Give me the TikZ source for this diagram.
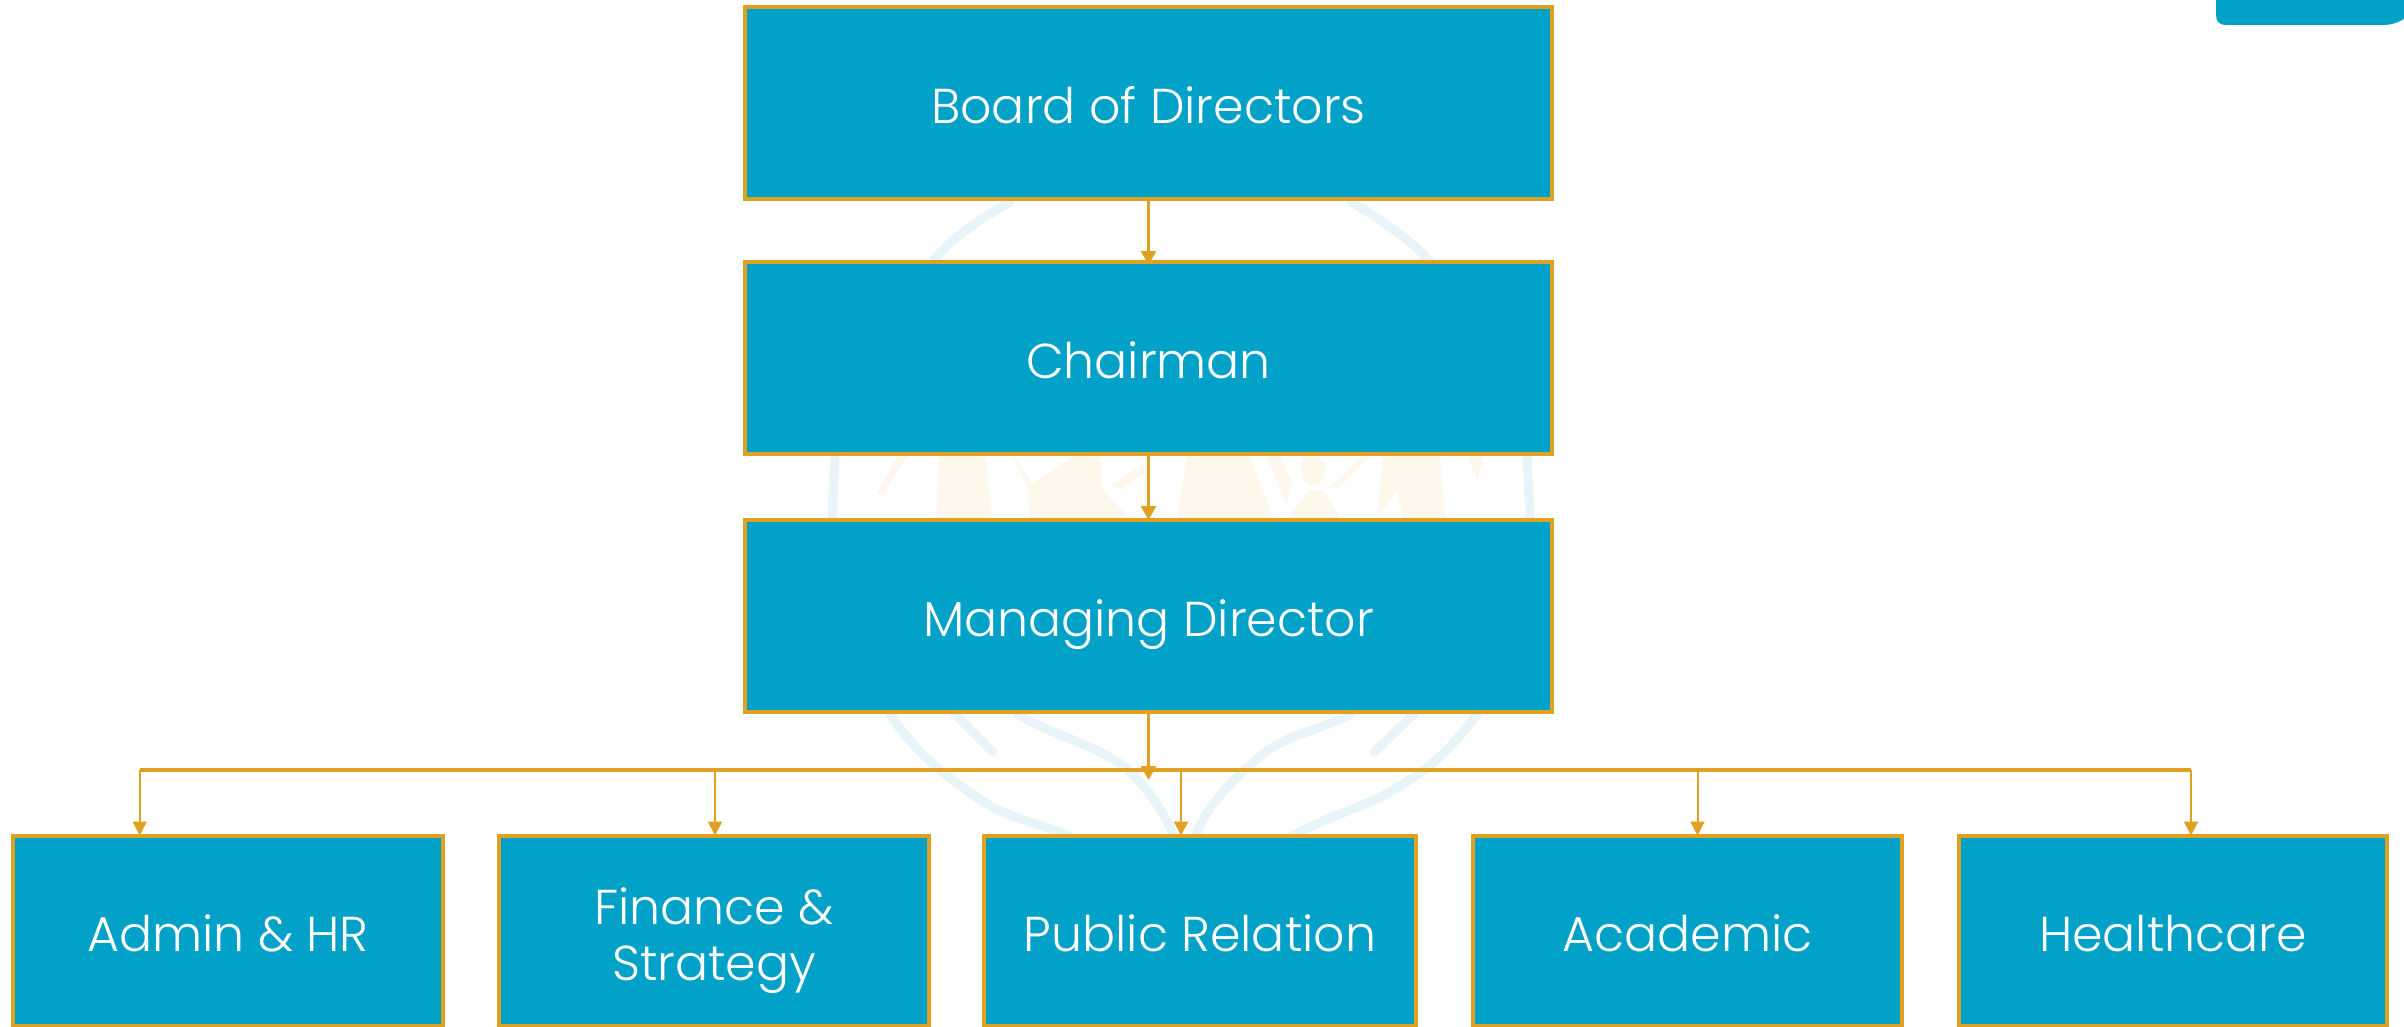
\documentclass[tikz,border=0pt]{standalone}
\usepackage{fontspec}
\setmainfont{Poppins Light}
\usetikzlibrary{arrows.meta,calc}
\definecolor{boxblue}{HTML}{01A1C8}
\definecolor{gold}{HTML}{E0A021}
\definecolor{wmblue}{HTML}{E7F4FA}
\definecolor{wmcream}{HTML}{FDF7EC}
\newcommand{\onelabel}[1]{\raisebox{0pt}[40pt][0pt]{#1}}
\tikzset{
  orgbox/.style={draw=gold,fill=boxblue,line width=4pt,text=white,align=center,
    inner sep=0pt,font=\fontsize{49}{56.7}\selectfont},
  topbox/.style={orgbox,minimum width=807pt,minimum height=192pt},
  arrowline/.style={draw=gold,line width=2.6pt,-{Triangle[width=15pt,length=14pt]}},
  thinline/.style={draw=gold,line width=2pt,-{Triangle[width=14pt,length=14pt]}},
  barline/.style={draw=gold,line width=4pt},
  wmline/.style={draw=wmblue,line width=9pt,line cap=round},
  wmfill/.style={fill=wmcream,draw=none}
}
\begin{document}
\begin{tikzpicture}[x=1pt,y=-1pt]
\useasboundingbox (0,0) rectangle (2404,1027);
\fill[white] (0,0) rectangle (2404,1027);
% faint background emblem
\draw[wmline] (1010,202) .. controls (975,222) and (950,240) .. (934,260);
\draw[wmline] (1351,202) .. controls (1385,222) and (1410,240) .. (1429,260);
\draw[wmline] (835,456) -- (832,518);
\draw[wmline] (1527,456) -- (1530,518);
\draw[wmline] (890,714) .. controls (910,745) and (940,775) .. (989,805) .. controls (1015,820) and (1045,825) .. (1069,836);
\draw[wmline] (955,714) -- (993,752);
\draw[wmline] (1018,714) .. controls (1050,735) and (1100,745) .. (1128,770) .. controls (1150,790) and (1165,815) .. (1174,836);
\draw[wmline] (1351,714) .. controls (1320,730) and (1285,735) .. (1262,755) .. controls (1230,780) and (1205,810) .. (1195,836);
\draw[wmline] (1414,714) -- (1374,752);
\draw[wmline] (1477,714) .. controls (1450,750) and (1430,770) .. (1384,795) .. controls (1355,810) and (1320,820) .. (1292,836);
\fill[wmfill] (897,456) -- (907,456) -- (882,497) -- (878,492) -- cycle;
\fill[wmfill] (939,456) -- (985,456) -- (992,518) -- (936,518) -- cycle;
\fill[wmfill] (1013,456) -- (1033,483) -- (1075,456) -- (1100,456) -- (1102,490) -- (1130,518) -- (1030,518) -- (1028,490) -- cycle;
\fill[wmfill] (1112,485) -- (1143,464) -- (1145,472) -- (1120,490) -- cycle;
\fill[wmfill] (1187,456) -- (1250,456) -- (1273,518) -- (1177,518) -- cycle;
\fill[wmfill] (1267,456) -- (1280,456) -- (1292,483) -- (1286,505) -- cycle;
\fill[wmfill] (1313,470) ellipse[x radius=12,y radius=16];
\fill[wmfill] (1287,518) -- (1310,490) -- (1323,490) -- (1340,518) -- cycle;
\fill[wmfill] (1330,487) -- (1363,456) -- (1370,456) -- (1340,487) -- cycle;
\fill[wmfill] (1383,456) -- (1440,456) -- (1445,518) -- (1403,518) -- (1397,490) -- (1377,518) -- cycle;
\fill[wmfill] (1467,456) -- (1478,480) -- (1483,456) -- cycle;
% corner tab
\fill[boxblue] (2216,-5) -- (2216,15) .. controls (2216,22) and (2220,25) .. (2226,25) -- (2383,25) .. controls (2392,25) and (2399,22) .. (2404,19) -- (2404,-5) -- cycle;
% top boxes
\node[topbox] (board) at (1148.5,103.5) {\onelabel{Board of Directors}};
\node[topbox] (chair) at (1148.5,358) {\onelabel{Chairman}};
\node[topbox] (md) at (1148.5,616) {\onelabel{Managing Director}};
% bottom row
\node[orgbox,minimum width=430pt,minimum height=190pt] (admin) at (228,931) {\onelabel{Admin \& HR}};
\node[orgbox,minimum width=430pt,minimum height=190pt] (fin) at (714,931) {\raisebox{0pt}[42.7pt][0pt]{Finance \&}\\\raisebox{0pt}[0pt][0pt]{Strategy}};
\node[orgbox,minimum width=432pt,minimum height=190pt] (pr) at (1200,931) {\onelabel{Public Relation}};
\node[orgbox,minimum width=429pt,minimum height=190pt] (acad) at (1687.5,931) {\onelabel{Academic}};
\node[orgbox,minimum width=428pt,minimum height=190pt] (health) at (2173,931) {\onelabel{Healthcare}};
% bar
\coordinate (barL) at (139.7,769.7);
\coordinate (barF) at (715,769.7);
\coordinate (barP) at (1181,769.7);
\coordinate (barA) at (1697.5,769.7);
\coordinate (barH) at (2191,769.7);
\coordinate (mdtip) at (1148.5,780);
\draw[barline] (barL) -- (barH);
% connectors
\draw[arrowline] (board.south) -- ([yshift=-5pt]chair.north);
\draw[arrowline] (chair.south) -- ([yshift=-2pt]md.north);
\draw[arrowline] (md.south) -- (mdtip);
\draw[thinline] (barL) -- ([yshift=-1.5pt]barL |- admin.north);
\draw[thinline] (barF) -- ([yshift=-1.5pt]barF |- fin.north);
\draw[thinline] (barP) -- ([yshift=-1.5pt]barP |- pr.north);
\draw[thinline] (barA) -- ([yshift=-1.5pt]barA |- acad.north);
\draw[thinline] (barH) -- ([yshift=-1.5pt]barH |- health.north);
\end{tikzpicture}
\end{document}
